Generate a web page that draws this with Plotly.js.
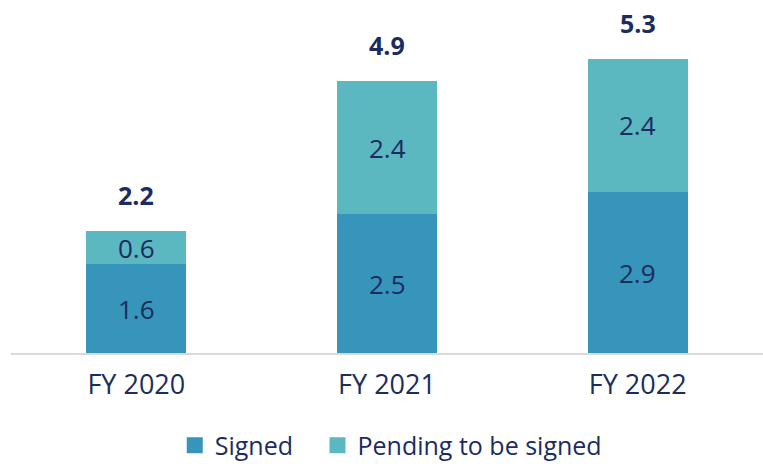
<!DOCTYPE html>
<html>
<head>
<meta charset="utf-8">
<script src="https://cdn.plot.ly/plotly-3.0.1.min.js"></script>
<style>
  html, body { margin: 0; padding: 0; background: #fff; }
  #chart { width: 763px; height: 464px; }
</style>
</head>
<body>
<div id="chart"></div>
<script>
const years = ["FY 2020", "FY 2021", "FY 2022"];
const signed = [1.6, 2.5, 2.9];
const pending = [0.6, 2.4, 2.4];
const totals = [2.2, 4.9, 5.3];

const navy = "#1B2C5E";
const font = "Open Sans, sans-serif";
const signedColor = "#3795BB";
const pendingColor = "#5BB7C0";

const data = [
  {
    type: "bar",
    name: "Signed",
    x: years,
    y: signed,
    marker: { color: signedColor },
    showlegend: false,
    hoverinfo: "skip",
  },
  {
    type: "bar",
    name: "Pending to be signed",
    x: years,
    y: pending,
    marker: { color: pendingColor },
    showlegend: false,
    hoverinfo: "skip",
  },
  // legend-only entries with bigger square markers
  {
    type: "scatter",
    mode: "markers",
    name: "Signed\u00A0\u00A0\u00A0",
    x: [null],
    y: [null],
    marker: { symbol: "square", size: 16, color: signedColor },
  },
  {
    type: "scatter",
    mode: "markers",
    name: "Pending to be signed",
    x: [null],
    y: [null],
    marker: { symbol: "square", size: 16, color: pendingColor },
  },
];

const annotations = [];
years.forEach((yr, i) => {
  // segment labels
  annotations.push({
    x: yr, y: signed[i] / 2, text: signed[i].toFixed(1), showarrow: false,
    font: { color: navy, size: 26, family: font },
  });
  annotations.push({
    x: yr, y: signed[i] + pending[i] / 2, text: pending[i].toFixed(1), showarrow: false,
    font: { color: navy, size: 26, family: font },
  });
  // total above stack
  annotations.push({
    x: yr, y: totals[i], text: "<b>" + totals[i].toFixed(1) + "</b>", showarrow: false,
    yanchor: "middle", yshift: 36,
    font: { color: navy, size: 25, family: font },
  });
});

const layout = {
  width: 763,
  height: 464,
  barmode: "stack",
  bargap: 0.6,
  margin: { l: 11, r: 0, t: 10, b: 111, autoexpand: false },
  paper_bgcolor: "#fff",
  plot_bgcolor: "#fff",
  showlegend: true,
  legend: {
    orientation: "h",
    x: 0.505,
    xanchor: "center",
    y: -0.27,
    yanchor: "middle",
    font: { color: navy, size: 25, family: font },
    itemwidth: 30,
    tracegroupgap: 0,
    traceorder: "normal",
  },
  xaxis: {
    showline: true,
    linecolor: "#D9D9D9",
    linewidth: 2,
    ticks: "",
    ticklabelstandoff: 7,
    tickfont: { color: navy, size: 27, family: font },
    fixedrange: true,
  },
  yaxis: {
    range: [0, 6.18],
    visible: false,
    showgrid: false,
    zeroline: false,
    fixedrange: true,
  },
  annotations: annotations,
};

Plotly.newPlot("chart", data, layout, { displayModeBar: false, staticPlot: true });
</script>
</body>
</html>
